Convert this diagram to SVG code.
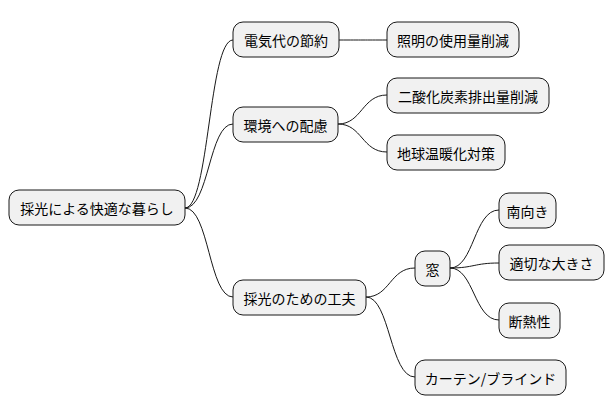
<svg xmlns="http://www.w3.org/2000/svg" width="614" height="415" viewBox="0 0 614 415">
<style>
.n rect{fill:#F1F1F1;stroke:#181818;stroke-width:1}
.n text{font-family:"Noto Sans CJK JP","Liberation Sans",sans-serif;font-size:14px;fill:#000;text-anchor:middle;dominant-baseline:central}
#c path{fill:none;stroke:#181818;stroke-width:1}
</style>
<rect width="614" height="415" fill="#fff"/>
<g id="c">
<path d="M185,208 C209,208 209,40 233,40"/>
<path d="M185,208 C209,208 209,124 233,124"/>
<path d="M185,208 C209,208 209,297 233,297"/>
<path d="M339,40 C363,40 363,40 387,40"/>
<path d="M338,124 C362,124 362,95 387,95"/>
<path d="M338,124 C362,124 362,152 387,152"/>
<path d="M366,297 C390,297 390,268 415,268"/>
<path d="M366,297 C390,297 390,377 415,377"/>
<path d="M450,268 C474,268 474,210 499,210"/>
<path d="M450,268 C474,268 474,263 499,263"/>
<path d="M450,268 C474,268 474,320 499,320"/>
</g>
<g id="root" class="n"><rect x="9" y="190" width="176" height="35" rx="10"/><text x="97" y="208">採光による快適な暮らし</text></g>
<g id="n1" class="n"><rect x="233" y="22" width="106" height="35" rx="10"/><text x="286" y="40">電気代の節約</text></g>
<g id="n11" class="n"><rect x="387" y="22" width="132" height="35" rx="10"/><text x="453" y="40">照明の使用量削減</text></g>
<g id="n2" class="n"><rect x="233" y="107" width="105" height="35" rx="10"/><text x="285.5" y="125">環境への配慮</text></g>
<g id="n21" class="n"><rect x="387" y="78" width="162" height="35" rx="10"/><text x="468" y="96">二酸化炭素排出量削減</text></g>
<g id="n22" class="n"><rect x="387" y="135" width="118" height="35" rx="10"/><text x="446" y="153">地球温暖化対策</text></g>
<g id="n3" class="n"><rect x="233" y="280" width="133" height="35" rx="10"/><text x="299.5" y="298">採光のための工夫</text></g>
<g id="n31" class="n"><rect x="415" y="251" width="35" height="35" rx="10"/><text x="432.5" y="269">窓</text></g>
<g id="n311" class="n"><rect x="499" y="193" width="57" height="35" rx="10"/><text x="527.5" y="211">南向き</text></g>
<g id="n312" class="n"><rect x="499" y="245" width="105" height="35" rx="10"/><text x="551.5" y="263">適切な大きさ</text></g>
<g id="n313" class="n"><rect x="499" y="303" width="61" height="35" rx="10"/><text x="529.5" y="321">断熱性</text></g>
<g id="n32" class="n"><rect x="415" y="360" width="151" height="35" rx="10"/><text x="490.5" y="378">カーテン/ブラインド</text></g>
</svg>
